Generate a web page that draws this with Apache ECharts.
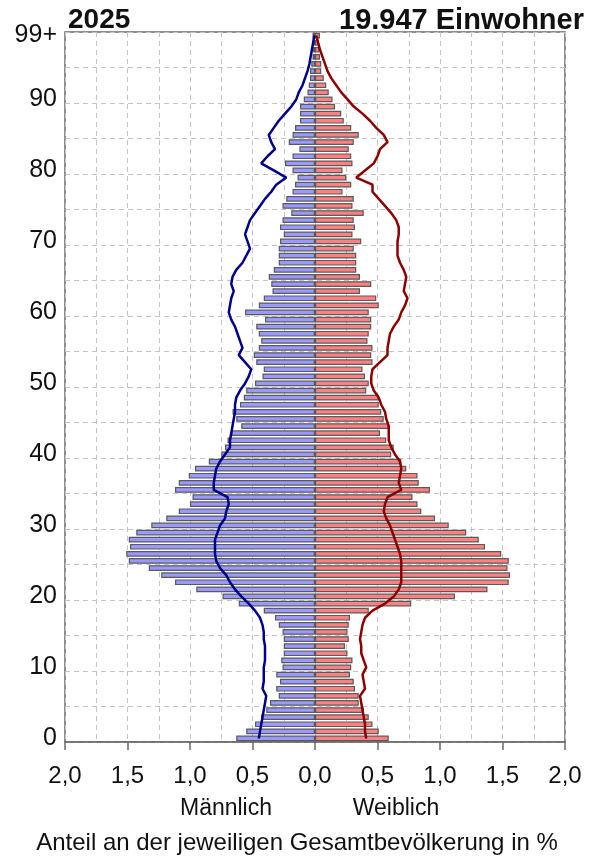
<!DOCTYPE html>
<html><head><meta charset="utf-8">
<script src="https://cdn.jsdelivr.net/npm/echarts@6/dist/echarts.min.js"></script>
<style>html,body{margin:0;padding:0;background:#fff}#c{width:594px;height:859px}</style>
</head><body><div id="c"></div>
<script>
// Age categories 0..98, 99+
const ages = [];
for (let a = 0; a < 99; a++) ages.push(String(a));
ages.push('99+');

// Bars: share of total population in % (index = age)
const male = [
 0.63,0.55,0.48,0.43,0.39,0.36,0.29,0.31,0.28,0.31,
 0.26,0.27,0.25,0.25,0.25,0.26,0.29,0.32,0.41,0.61,
 0.74,0.95,1.12,1.23,1.33,1.49,1.51,1.48,1.49,1.43,
 1.31,1.19,1.09,1.00,0.98,1.12,1.09,1.01,0.96,0.85,
 0.75,0.72,0.70,0.67,0.59,0.63,0.66,0.60,0.57,0.55,
 0.48,0.42,0.41,0.47,0.49,0.45,0.43,0.45,0.47,0.40,
 0.56,0.45,0.41,0.34,0.35,0.37,0.33,0.29,0.29,0.29,
 0.28,0.25,0.28,0.26,0.19,0.26,0.23,0.18,0.16,0.14,
 0.18,0.24,0.18,0.125,0.21,0.18,0.16,0.12,0.12,0.12,
 0.09,0.06,0.05,0.04,0.04,0.03,0.02,0.02,0.01,0.02
];
const female = [
 0.59,0.51,0.46,0.43,0.39,0.35,0.35,0.32,0.31,0.28,
 0.29,0.30,0.26,0.24,0.27,0.26,0.27,0.28,0.43,0.77,
 1.12,1.38,1.55,1.56,1.54,1.55,1.49,1.36,1.31,1.21,
 1.07,0.96,0.85,0.82,0.78,0.92,0.83,0.82,0.73,0.69,
 0.61,0.63,0.57,0.52,0.59,0.55,0.53,0.51,0.51,0.41,
 0.43,0.40,0.38,0.46,0.45,0.46,0.42,0.43,0.45,0.45,
 0.43,0.51,0.49,0.36,0.45,0.36,0.33,0.33,0.33,0.31,
 0.37,0.30,0.32,0.31,0.39,0.30,0.31,0.22,0.29,0.25,
 0.22,0.30,0.29,0.27,0.31,0.35,0.29,0.23,0.21,0.16,
 0.14,0.11,0.09,0.07,0.05,0.05,0.04,0.035,0.03,0.04
];
// Comparison lines (%)
const maleRef = [
 0.45,0.44,0.43,0.42,0.41,0.40,0.39,0.42,0.41,0.41,
 0.41,0.40,0.40,0.40,0.41,0.41,0.42,0.44,0.48,0.53,
 0.59,0.64,0.68,0.71,0.76,0.79,0.80,0.80,0.80,0.78,
 0.76,0.72,0.71,0.69,0.70,0.81,0.81,0.80,0.79,0.76,
 0.72,0.68,0.68,0.67,0.66,0.65,0.64,0.64,0.63,0.60,
 0.56,0.53,0.51,0.56,0.61,0.58,0.60,0.62,0.64,0.67,
 0.69,0.68,0.67,0.65,0.67,0.66,0.63,0.58,0.55,0.52,
 0.54,0.56,0.54,0.52,0.48,0.44,0.40,0.35,0.31,0.23,
 0.33,0.43,0.38,0.32,0.35,0.37,0.33,0.29,0.24,0.19,
 0.15,0.13,0.10,0.08,0.06,0.045,0.035,0.025,0.015,0.005
];
const femaleRef = [
 0.41,0.40,0.40,0.39,0.38,0.37,0.36,0.40,0.39,0.38,
 0.41,0.39,0.37,0.37,0.36,0.37,0.38,0.40,0.46,0.56,
 0.63,0.67,0.69,0.69,0.69,0.69,0.68,0.66,0.64,0.62,
 0.60,0.57,0.55,0.56,0.58,0.69,0.67,0.68,0.69,0.68,
 0.64,0.61,0.59,0.59,0.59,0.57,0.56,0.53,0.51,0.47,
 0.45,0.45,0.46,0.52,0.58,0.58,0.59,0.60,0.63,0.67,
 0.69,0.72,0.74,0.71,0.72,0.73,0.71,0.68,0.66,0.66,
 0.66,0.67,0.67,0.65,0.61,0.56,0.51,0.46,0.46,0.33,
 0.40,0.47,0.50,0.52,0.58,0.55,0.49,0.44,0.38,0.31,
 0.26,0.21,0.17,0.13,0.10,0.08,0.06,0.04,0.025,0.01
];
const yearLabel = '2025';
const popLabel = '19.947 Einwohner';
const sexLabels = ['Männlich', 'Weiblich'];
const xTitle = 'Anteil an der jeweiligen Gesamtbevölkerung in %';

const FONT = '"Liberation Sans", Arial, sans-serif';
const chart = echarts.init(document.getElementById('c'), null, {renderer: 'canvas'});
const dash = {color: '#c4c4c4', width: 1, type: [5, 4]};
chart.setOption({
  animation: false,
  backgroundColor: '#fff',
  grid: {left: 65, right: 29, top: 32, height: 710, show: true, borderColor: '#6a6a6a', borderWidth: 1.5, backgroundColor: 'transparent'},
  xAxis: {
    type: 'value', min: -2, max: 2, interval: 0.5,
    axisLine: {show: true, lineStyle: {color: '#6a6a6a', width: 1.5}},
    axisTick: {show: true, length: 8, lineStyle: {color: '#6a6a6a', width: 1.5}},
    axisLabel: {fontFamily: FONT, fontSize: 24, color: '#111', margin: 22,
      formatter: v => Math.abs(v).toFixed(1).replace('.', ',')},
    splitLine: {show: true, lineStyle: dash},
    minorTick: {show: false, splitNumber: 2},
    minorSplitLine: {show: true, lineStyle: dash}
  },
  yAxis: {
    type: 'category', data: ages, boundaryGap: true,
    axisLine: {show: false}, axisTick: {show: false},
    axisLabel: {fontFamily: FONT, fontSize: 25, color: '#111', margin: 8,
      interval: (i) => i % 10 === 0 || i === 99},
    splitLine: {show: true, interval: (i) => i % 5 === 0, lineStyle: dash}
  },
  graphic: [
    {type: 'text', left: 68, top: 6, style: {text: yearLabel, font: 'bold 28px ' + FONT, fill: '#111'}},
    {type: 'text', right: 10, top: 6, style: {text: popLabel, font: 'bold 29px ' + FONT, fill: '#111'}},
    {type: 'text', x: 226, y: 809, style: {text: sexLabels[0], font: '23px ' + FONT, fill: '#111', align: 'center', verticalAlign: 'middle'}},
    {type: 'text', x: 396, y: 809, style: {text: sexLabels[1], font: '23px ' + FONT, fill: '#111', align: 'center', verticalAlign: 'middle'}},
    {type: 'text', x: 297, y: 843, style: {text: xTitle, font: '24px ' + FONT, fill: '#111', align: 'center', verticalAlign: 'middle'}}
  ],
  series: [
    {type: 'bar', data: male.map(v => -v), barWidth: 5.7, barGap: '-100%',
      itemStyle: {color: '#9999ff', borderColor: '#5a5a5a', borderWidth: 1.2}, z: 2},
    {type: 'bar', data: female, barWidth: 5.7, barGap: '-100%',
      itemStyle: {color: '#ff8080', borderColor: '#5a5a5a', borderWidth: 1.2}, z: 2},
    {type: 'line', data: maleRef.map(v => -v), symbol: 'none', lineStyle: {color: '#00008b', width: 2.5}, z: 5},
    {type: 'line', data: femaleRef, symbol: 'none', lineStyle: {color: '#8b0000', width: 2.5}, z: 5}
  ]
});
</script></body></html>
